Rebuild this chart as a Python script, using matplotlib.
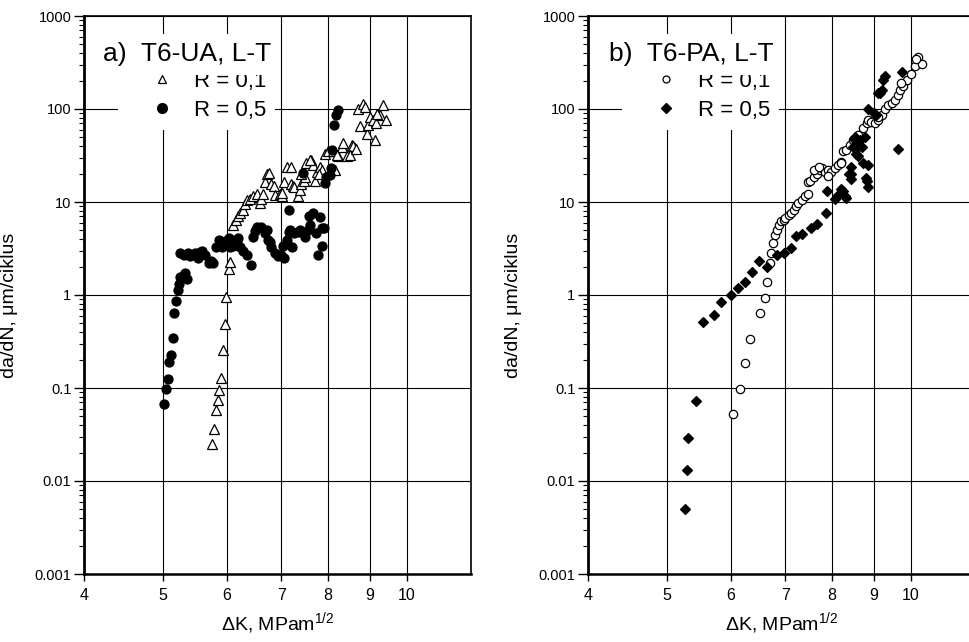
import matplotlib
matplotlib.use("Agg")
import matplotlib.pyplot as plt
from matplotlib.lines import Line2D
from matplotlib.ticker import FixedLocator, FixedFormatter, LogLocator, NullLocator

plt.rcParams['font.family'] = ['Liberation Sans', 'DejaVu Sans']
plt.rcParams['mathtext.fontset'] = 'custom'
plt.rcParams['mathtext.rm'] = 'Liberation Sans'
plt.rcParams['mathtext.it'] = 'Liberation Sans:italic'
plt.rcParams['mathtext.bf'] = 'Liberation Sans:bold'

# ---------------- data ----------------
# a) T6-UA, L-T
ua_r01_dk = [5.76, 5.79, 5.82, 5.85, 5.87, 5.90, 5.94, 5.97, 5.99, 6.04, 6.06, 6.11, 6.15, 6.19,
             6.23, 6.28, 6.32, 6.36, 6.41, 6.47, 6.53, 6.60, 6.62, 6.65, 6.68, 6.72, 6.76, 6.80,
             6.85, 6.88, 6.97, 7.01, 7.02, 7.06, 7.11, 7.19, 7.24, 7.27, 7.34, 7.38, 7.41, 7.46,
             7.50, 7.52, 7.63, 7.67, 7.70, 7.74, 7.81, 7.85, 7.92, 8.00, 8.15, 8.11, 8.23, 8.31,
             8.35, 8.43, 8.55, 8.63, 8.59, 8.71, 8.76, 8.83, 8.88, 8.92, 8.96, 9.00, 9.09, 9.13,
             9.17, 9.26, 9.35, 9.42, 7.20, 7.40, 7.60, 7.80, 8.20, 8.50, 8.66, 9.20]
ua_r01_dadn = [0.0247, 0.036, 0.058, 0.074, 0.094, 0.128, 0.255, 0.486, 0.94, 1.89, 2.24, 5.7, 6.4, 7.0,
               7.6, 8.2, 9.4, 10.6, 10.8, 11.5, 12.3, 9.8, 10.8, 12.3, 16.5, 20, 20.5, 15.7,
               14.9, 11.8, 12.3, 11.5, 12.5, 16.5, 24, 15.7, 14.9, 14.4, 11.5, 13.3, 15.7, 17,
               18.5, 26, 28, 25, 17, 21, 24, 22, 33, 35, 22, 35, 31, 39,
               43, 31, 41, 38, 40, 101, 65, 113, 106, 54, 67, 83, 76, 46,
               70, 86, 110, 76, 24, 20, 28, 20, 32, 32, 37, 89]

ua_r05_dk = [5.02, 5.05, 5.07, 5.09, 5.12, 5.15, 5.16, 5.19, 5.22, 5.24, 5.26, 5.33, 5.36, 5.25,
             5.32, 5.40, 5.48, 5.53, 5.59, 5.64, 5.70, 5.77, 5.82, 5.86, 5.92, 5.97, 6.03, 6.06,
             6.11, 6.17, 6.20, 6.23, 6.29, 6.36, 6.42, 6.46, 6.50, 6.54, 6.62, 6.68, 6.72, 6.75,
             6.81, 6.87, 6.94, 7.00, 7.06, 7.03, 7.11, 7.16, 7.17, 7.22, 7.27, 7.34, 7.38, 7.45,
             7.50, 7.55, 7.59, 7.67, 7.72, 7.77, 7.81, 7.85, 7.90, 7.45, 7.92, 7.96, 8.04, 8.07,
             8.09, 8.13, 8.17, 8.23, 5.38, 5.56, 5.74, 6.53, 6.78, 6.93, 7.15, 7.58, 7.87]
ua_r05_dadn = [0.067, 0.0975, 0.124, 0.192, 0.226, 0.342, 0.64, 0.87, 1.13, 1.30, 1.57, 1.71, 1.50, 2.8,
               2.7, 2.6, 2.8, 2.5, 3.0, 2.7, 2.2, 2.2, 3.3, 3.9, 3.3, 3.8, 4.1, 3.3,
               3.4, 3.8, 4.1, 3.3, 3.0, 2.7, 2.1, 4.2, 4.9, 5.4, 5.4, 4.6, 5.0, 3.9,
               3.3, 2.8, 2.6, 2.7, 2.5, 3.4, 3.9, 8.3, 5.0, 3.3, 4.6, 4.8, 5.0, 4.6,
               4.2, 5.0, 5.6, 7.6, 4.6, 2.7, 6.9, 3.4, 5.3, 20.5, 16, 18.6, 19.5, 23,
               36, 67, 86, 98, 2.8, 2.9, 2.3, 5.2, 3.7, 2.7, 4.8, 7.0, 5.2]

# b) T6-PA, L-T
pa_r01_dk = [6.03, 6.15, 6.24, 6.33, 6.52, 6.62, 6.65, 6.70, 6.72, 6.77, 6.80, 6.84, 6.87, 6.92,
             6.97, 7.00, 7.07, 7.12, 7.17, 7.22, 7.27, 7.34, 7.41, 7.47, 7.47, 7.52, 7.59, 7.66,
             7.73, 7.78, 7.84, 7.91, 7.98, 8.06, 8.14, 8.21, 8.25, 8.33, 8.41, 8.49, 8.61, 8.74,
             8.82, 8.86, 8.94, 9.03, 9.12, 9.21, 9.29, 9.38, 9.47, 9.56, 9.65, 9.70, 9.79, 9.88,
             10.02, 10.12, 10.21, 10.31, 10.16, 7.60, 7.70, 7.90, 8.20, 9.10, 9.74]
pa_r01_dadn = [0.052, 0.098, 0.185, 0.335, 0.64, 0.92, 1.39, 2.19, 2.8, 3.6, 4.4, 5.0, 5.7, 6.2,
               6.4, 6.7, 7.2, 7.6, 8.2, 9.0, 9.7, 10.6, 11.5, 12.3, 16.5, 17, 18.5, 20,
               22, 23, 21, 22, 21, 23, 25, 27, 35, 36, 41, 46, 53, 62,
               70, 76, 73, 70, 76, 86, 101, 110, 115, 125, 140, 160, 175, 205,
               240, 290, 360, 305, 345, 22, 24, 19, 26, 83, 189]

pa_r05_dk = [5.27, 5.30, 5.32, 5.43, 5.55, 5.72, 5.84, 6.00, 6.13, 6.24, 6.38, 6.50, 6.65, 6.84,
             6.97, 7.12, 7.22, 7.35, 7.54, 7.66, 7.85, 7.89, 8.07, 8.20, 8.33, 8.25, 8.43, 8.45,
             8.49, 8.53, 8.57, 8.61, 8.65, 8.70, 8.74, 8.78, 8.82, 8.85, 8.86, 8.86, 9.00, 9.12,
             9.21, 9.25, 9.29, 9.75, 9.64, 9.16, 9.05, 8.50, 8.60, 8.40, 8.45, 8.80, 8.10, 8.30]
pa_r05_dadn = [0.005, 0.013, 0.029, 0.073, 0.51, 0.61, 0.85, 1.0, 1.18, 1.39, 1.78, 2.3, 2.0, 2.7,
               2.8, 3.2, 4.3, 4.5, 5.2, 5.8, 7.7, 13.2, 10.9, 13.8, 11.1, 13, 20, 24,
               39, 50, 33, 31, 46, 39, 26, 50, 17, 14.6, 25, 101, 90, 147,
               160, 205, 228, 250, 37, 147, 86, 48, 39, 20, 17.5, 18, 11.5, 11.5]

x_ticks = [4, 5, 6, 7, 8, 9, 10]
x_ticklabels = ['4', '5', '6', '7', '8', '9', '10']
y_ticks = [0.001, 0.01, 0.1, 1, 10, 100, 1000]
y_ticklabels = ['0.001', '0.01', '0.1', '1', '10', '100', '1000']

labels = ['R = 0,1', 'R = 0,5']
titles = ['a)  T6-UA, L-T', 'b)  T6-PA, L-T']
ylabel = 'da/dN, \u03bcm/ciklus'
xlabel = '\u0394K, MPam$^{\\mathrm{1/2}}$'

# ---------------- figure ----------------
W, H = 970, 642
fig = plt.figure(figsize=(W / 100, H / 100), dpi=100)

def px_axes(x0, y0, x1, y1):
    return [x0 / W, 1 - y1 / H, (x1 - x0) / W, (y1 - y0) / H]

ax_a = fig.add_axes(px_axes(84, 16, 471, 574))
ax_b = fig.add_axes(px_axes(588, 16, 975, 574))

def style(ax):
    ax.set_xscale('log')
    ax.set_yscale('log')
    ax.set_xlim(4, 12)
    ax.set_ylim(0.001, 1000)
    ax.xaxis.set_major_locator(FixedLocator(x_ticks))
    ax.xaxis.set_major_formatter(FixedFormatter(x_ticklabels))
    ax.xaxis.set_minor_locator(NullLocator())
    ax.yaxis.set_major_locator(FixedLocator(y_ticks))
    ax.yaxis.set_major_formatter(FixedFormatter(y_ticklabels))
    ax.yaxis.set_minor_locator(LogLocator(base=10, subs=range(2, 10), numticks=20))
    ax.grid(True, which='major', color='black', lw=0.8)
    ax.set_axisbelow(True)
    ax.tick_params(axis='y', which='major', direction='out', length=7, width=1, labelsize=10.5, pad=2)
    ax.tick_params(axis='y', which='minor', direction='out', length=3.5, width=0.8)
    ax.tick_params(axis='x', which='major', direction='out', length=5, width=1, labelsize=11.5, pad=5)
    ax.spines['left'].set_linewidth(2.0)
    ax.spines['bottom'].set_linewidth(1.8)
    ax.spines['top'].set_linewidth(1.2)
    ax.spines['right'].set_linewidth(1.2)
    ax.set_xlabel(xlabel, fontsize=14, labelpad=5)
    ax.set_ylabel(ylabel, fontsize=14, labelpad=6)
    ax.yaxis.set_label_coords(-0.17, 0.482)

for ax in (ax_a, ax_b):
    style(ax)

ms = 6.5
ax_a.plot(ua_r01_dk, ua_r01_dadn, ls='none', marker='^', ms=ms, mfc='white', mec='black', mew=0.9, zorder=3)
ax_a.plot(ua_r05_dk, ua_r05_dadn, ls='none', marker='o', ms=ms, mfc='black', mec='black', mew=0.9, zorder=3)

ax_b.plot(pa_r01_dk, pa_r01_dadn, ls='none', marker='o', ms=6, mfc='white', mec='black', mew=0.9, zorder=3)
ax_b.plot(pa_r05_dk, pa_r05_dadn, ls='none', marker='D', ms=5.5, mfc='black', mec='black', mew=0.9, zorder=3)

handles_a = [Line2D([], [], ls='none', marker='^', ms=5.5, mfc='white', mec='black', mew=0.9),
             Line2D([], [], ls='none', marker='o', ms=7, mfc='black', mec='black')]
handles_b = [Line2D([], [], ls='none', marker='o', ms=5, mfc='white', mec='black', mew=0.9),
             Line2D([], [], ls='none', marker='D', ms=5.5, mfc='black', mec='black')]

for ax, hs, title in ((ax_a, handles_a, titles[0]), (ax_b, handles_b, titles[1])):
    leg = ax.legend(hs, labels, loc='upper left', bbox_to_anchor=(0.088, 0.918),
                    frameon=True, fancybox=False, framealpha=1, edgecolor='none', facecolor='white',
                    fontsize=16, borderpad=0.4, handlelength=3.15, handletextpad=-0.13,
                    labelspacing=0.36, borderaxespad=0)
    leg.set_zorder(5)
    ax.text(0.2674, 0.919, title, transform=ax.transAxes, ha='center', va='baseline',
            fontsize=19, zorder=10,
            bbox=dict(boxstyle='square,pad=0.32', facecolor='white', edgecolor='none'))

fig.savefig('out.png', dpi=100)
